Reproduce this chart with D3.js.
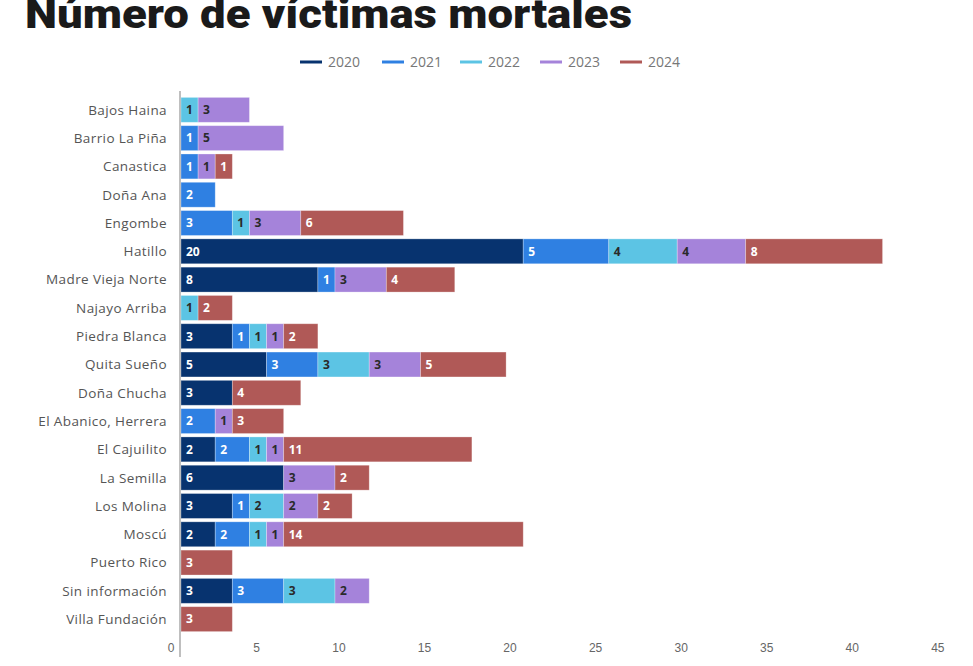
<!DOCTYPE html>
<html>
<head>
<meta charset="utf-8">
<script src="https://cdn.jsdelivr.net/npm/d3@7"></script>
<style>
  body { margin: 0; background: #fff; }
  svg { display: block; font-family: "Open Sans", sans-serif; }
  .title { font-family: Roboto, sans-serif; font-weight: 900; fill: #1a1a1a; }
  .cat-label { fill: #555; font-size: 13.5px; letter-spacing: 0.4px; }
  .legend text { fill: #777; font-size: 14px; }
  .seg-label { font-size: 12px; font-weight: 700; }
  .x-axis text { fill: #666; font-size: 12px; }
</style>
</head>
<body>
<svg id="chart"></svg>
<script>
// Barrios / sectores
const barrios = [
  "Bajos Haina", "Barrio La Piña", "Canastica", "Doña Ana", "Engombe",
  "Hatillo", "Madre Vieja Norte", "Najayo Arriba", "Piedra Blanca", "Quita Sueño",
  "Doña Chucha", "El Abanico, Herrera", "El Cajuilito", "La Semilla", "Los Molina",
  "Moscú", "Puerto Rico", "Sin información", "Villa Fundación"
];

const years = ["2020", "2021", "2022", "2023", "2024"];

// valores por año, en el orden de barrios
const v2020 = [0, 0, 0, 0, 0, 20, 8, 0, 3, 5, 3, 0, 2, 6, 3, 2, 0, 3, 0];
const v2021 = [0, 1, 1, 2, 3, 5, 1, 0, 1, 3, 0, 2, 2, 0, 1, 2, 0, 3, 0];
const v2022 = [1, 0, 0, 0, 1, 4, 0, 1, 1, 3, 0, 0, 1, 0, 2, 1, 0, 3, 0];
const v2023 = [3, 5, 1, 0, 3, 4, 3, 0, 1, 3, 0, 1, 1, 3, 2, 1, 0, 2, 0];
const v2024 = [0, 0, 1, 0, 6, 8, 4, 2, 2, 5, 4, 3, 11, 2, 2, 14, 3, 0, 3];

const xTicks = [0, 5, 10, 15, 20, 25, 30, 35, 40, 45];

const colors = ["#07336f", "#2f80e2", "#5cc4e4", "#a583da", "#b05957"];
const labelColors = ["#fff", "#fff", "#2a2a2a", "#2a2a2a", "#fff"];

const W = 973, H = 666;
const margin = {top: 94, right: 23, bottom: 31, left: 180};

const rows = barrios.map((b, i) => {
  const r = {barrio: b};
  r["2020"] = v2020[i]; r["2021"] = v2021[i]; r["2022"] = v2022[i];
  r["2023"] = v2023[i]; r["2024"] = v2024[i];
  return r;
});

const svg = d3.select("#chart").attr("width", W).attr("height", H);

// title sits partly above the frame, as in the original
svg.append("text")
    .attr("class", "title")
    .attr("x", 25)
    .attr("y", 28)
    .attr("font-size", 40)
    .attr("textLength", 607)
    .attr("lengthAdjust", "spacingAndGlyphs")
    .text("Número de víctimas mortales");

// legend
const legendX = [300, 382, 460, 540, 620];
const legend = svg.append("g").attr("class", "legend");
years.forEach((y, i) => {
  const g = legend.append("g").attr("transform", `translate(${legendX[i]},62)`);
  g.append("line")
      .attr("x1", 0).attr("x2", 22)
      .attr("stroke", colors[i]).attr("stroke-width", 3);
  g.append("text").attr("x", 28).attr("y", 5).text(y);
});

const xScale = d3.scaleLinear()
    .domain([0, 45])
    .range([margin.left, W - margin.right]);

const yScale = d3.scaleBand()
    .domain(barrios)
    .range([margin.top, H - margin.bottom])
    .padding(0.12);

const stacked = d3.stack().keys(years)(rows);

const layers = svg.append("g").selectAll("g")
    .data(stacked)
    .join("g")
    .attr("fill", (d, i) => colors[i]);

layers.selectAll("rect")
    .data(d => d.filter(s => s[1] - s[0] > 0))
    .join("rect")
    .attr("x", d => xScale(d[0]) + 1)
    .attr("y", d => yScale(d.data.barrio))
    .attr("width", d => xScale(d[1]) - xScale(d[0]))
    .attr("height", yScale.bandwidth())
    .attr("stroke", "#fff")
    .attr("stroke-opacity", 0.35)
    .attr("stroke-width", 0.8);

layers.each(function(layer, i) {
  d3.select(this).selectAll("text")
      .data(layer.filter(s => s[1] - s[0] > 0))
      .join("text")
      .attr("class", "seg-label")
      .attr("x", d => xScale(d[0]) + 6)
      .attr("y", d => yScale(d.data.barrio) + yScale.bandwidth() / 2)
      .attr("dy", "0.36em")
      .attr("fill", labelColors[i])
      .text(d => d[1] - d[0]);
});

// category labels
svg.append("g").selectAll("text")
    .data(barrios)
    .join("text")
    .attr("class", "cat-label")
    .attr("x", margin.left - 13)
    .attr("y", d => yScale(d) + yScale.bandwidth() / 2)
    .attr("dy", "0.36em")
    .attr("text-anchor", "end")
    .text(d => d);

// x axis labels only
const xAxis = d3.axisBottom(xScale)
    .tickValues(xTicks)
    .tickSize(0)
    .tickPadding(0);

svg.append("g")
    .attr("class", "x-axis")
    .attr("transform", "translate(0,643)")
    .call(xAxis)
    .call(g => g.select(".domain").remove())
    .call(g => g.selectAll("text").attr("text-anchor", "end").attr("dx", -6).attr("dy", "0.71em"));

// vertical baseline
svg.append("line")
    .attr("x1", xScale(0)).attr("x2", xScale(0))
    .attr("y1", 91).attr("y2", 657)
    .attr("stroke", "#aaa")
    .attr("stroke-width", 1.5);
</script>
</body>
</html>
